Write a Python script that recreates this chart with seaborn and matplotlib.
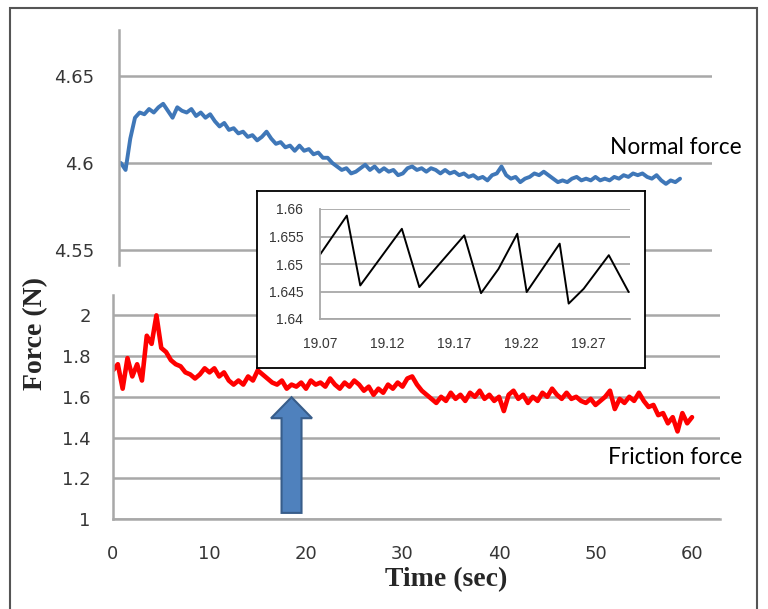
import numpy as np
import pandas as pd
import matplotlib
matplotlib.use("Agg")
import matplotlib.pyplot as plt
import seaborn as sns
from matplotlib.patches import Rectangle, FancyArrow

# ---- data ----
step = 0.5
normal_force = [
    4.600, 4.596, 4.614, 4.626, 4.629, 4.628, 4.631, 4.629, 4.632, 4.634,
    4.630, 4.626, 4.632, 4.630, 4.629, 4.631, 4.627, 4.629, 4.626, 4.628,
    4.624, 4.621, 4.623, 4.619, 4.620, 4.617, 4.618, 4.615, 4.616, 4.613,
    4.615, 4.618, 4.614, 4.611, 4.612, 4.609, 4.610, 4.607, 4.610, 4.607,
    4.608, 4.605, 4.606, 4.603, 4.603, 4.600, 4.598, 4.596, 4.597, 4.594,
    4.595, 4.597, 4.599, 4.596, 4.598, 4.595, 4.597, 4.595, 4.596, 4.593,
    4.594, 4.597, 4.598, 4.596, 4.597, 4.595, 4.597, 4.596, 4.594, 4.596,
    4.594, 4.595, 4.593, 4.594, 4.592, 4.593, 4.591, 4.592, 4.590, 4.593,
    4.594, 4.598, 4.593, 4.591, 4.592, 4.589, 4.591, 4.592, 4.594, 4.593,
    4.595, 4.593, 4.591, 4.589, 4.590, 4.589, 4.591, 4.592, 4.590, 4.591,
    4.590, 4.592, 4.590, 4.591, 4.590, 4.592, 4.591, 4.593, 4.592, 4.594,
    4.593, 4.594, 4.592, 4.591, 4.593, 4.590, 4.588, 4.590, 4.589, 4.591,
]
friction_force = [
    1.73, 1.76, 1.64, 1.79, 1.70, 1.76, 1.68, 1.90, 1.86, 2.00,
    1.84, 1.82, 1.78, 1.76, 1.75, 1.72, 1.71, 1.69, 1.71, 1.74,
    1.72, 1.74, 1.70, 1.72, 1.68, 1.66, 1.68, 1.66, 1.70, 1.68,
    1.73, 1.71, 1.69, 1.67, 1.66, 1.68, 1.64, 1.66, 1.65, 1.67,
    1.64, 1.68, 1.66, 1.67, 1.65, 1.69, 1.66, 1.64, 1.67, 1.65,
    1.68, 1.66, 1.63, 1.65, 1.61, 1.64, 1.62, 1.66, 1.64, 1.67,
    1.65, 1.69, 1.70, 1.66, 1.63, 1.61, 1.59, 1.57, 1.60, 1.58,
    1.62, 1.59, 1.61, 1.58, 1.62, 1.60, 1.63, 1.59, 1.61, 1.58,
    1.60, 1.53, 1.61, 1.63, 1.59, 1.61, 1.57, 1.60, 1.58, 1.62,
    1.60, 1.64, 1.61, 1.59, 1.62, 1.59, 1.60, 1.58, 1.57, 1.59,
    1.56, 1.58, 1.60, 1.63, 1.54, 1.59, 1.57, 1.60, 1.58, 1.62,
    1.58, 1.55, 1.56, 1.51, 1.52, 1.47, 1.50, 1.43, 1.52, 1.47,
    1.50,
]
# zoomed stick-slip window
zoom_time = [19.070, 19.090, 19.100, 19.131, 19.144, 19.1775, 19.190, 19.203,
             19.217, 19.224, 19.2486, 19.2553, 19.2665, 19.2852, 19.300]
zoom_force = [1.6517, 1.6588, 1.6461, 1.6564, 1.6458, 1.6552, 1.6447, 1.6491,
              1.6555, 1.6449, 1.6537, 1.6428, 1.6455, 1.6516, 1.6449]

top_ticks = [4.55, 4.6, 4.65]
top_labels = ["4.55", "4.6", "4.65"]
bot_yticks = [1, 1.2, 1.4, 1.6, 1.8, 2]
bot_ylabels = ["1", "1.2", "1.4", "1.6", "1.8", "2"]
time_ticks = [0, 10, 20, 30, 40, 50, 60]
zoom_yticks = [1.64, 1.645, 1.65, 1.655, 1.66]
zoom_ylabels = ["1.64", "1.645", "1.65", "1.655", "1.66"]
zoom_xticks = [19.07, 19.12, 19.17, 19.22, 19.27]
arrow_time = 18.5

normal_df = pd.DataFrame({"t": np.arange(len(normal_force)) * step, "f": normal_force})
friction_df = pd.DataFrame({"t": np.arange(len(friction_force)) * step, "f": friction_force})
zoom_df = pd.DataFrame({"t": zoom_time, "f": zoom_force})

sns.set_theme(style="white")
plt.rcParams["font.family"] = ["DejaVu Sans"]

W, H = 768, 609
grid_c = "#a8a8a8"
tick_c = "#363636"

fig = plt.figure(figsize=(W / 100, H / 100), dpi=100)


def px_axes(l, t, r, b, **kw):
    return fig.add_axes([l / W, 1 - b / H, (r - l) / W, (b - t) / H], **kw)


def excel_style(ax, lw=1.8, ticklen=6):
    for s in ax.spines.values():
        s.set_visible(False)
    ax.spines["left"].set_visible(True)
    ax.spines["left"].set_color(grid_c)
    ax.spines["left"].set_linewidth(lw)
    ax.yaxis.grid(True, color=grid_c, lw=lw)
    ax.xaxis.grid(False)
    ax.tick_params(axis="both", colors=grid_c, width=lw, length=ticklen,
                   direction="out", labelcolor=tick_c)
    ax.set_facecolor("none")
    ax.set_xlabel("")
    ax.set_ylabel("")


# ---- top panel: normal force ----
ax_top = px_axes(119, 30, 712, 265)
sns.lineplot(data=normal_df, x="t", y="f", ax=ax_top, color="#3f77b8", lw=2.8)
excel_style(ax_top, ticklen=9)
ax_top.set_xlim(-0.2, 62.9)
ax_top.set_ylim(4.5414, 4.6764)
ax_top.set_yticks(top_ticks, top_labels, fontsize=13)
ax_top.tick_params(axis="y", pad=9)
ax_top.set_xticks([])

# ---- bottom panel: friction force ----
ax_bot = px_axes(113, 295, 720, 519)
sns.lineplot(data=friction_df, x="t", y="f", ax=ax_bot, color="#ff0000", lw=3.3)
excel_style(ax_bot)
ax_bot.spines["bottom"].set_visible(True)
ax_bot.spines["bottom"].set_color(grid_c)
ax_bot.spines["bottom"].set_linewidth(1.8)
ax_bot.set_xlim(0, 62.9)
ax_bot.set_ylim(1, 2.1)
ax_bot.set_yticks(bot_yticks, bot_ylabels, fontsize=13)
ax_bot.set_xticks(time_ticks, [str(v) for v in time_ticks], fontsize=13)
ax_bot.tick_params(axis="y", pad=10)
ax_bot.tick_params(axis="x", pad=13)

ax_bot.add_patch(FancyArrow(arrow_time, 1.03, 0, 0.568, width=2.07, head_width=4.25,
                            head_length=0.103, length_includes_head=True,
                            fc="#4f81bd", ec="#385d8a", lw=1.5, zorder=4))

# ---- inset frame and zoomed window ----
frame = px_axes(257, 191, 645, 368)
frame.set_xticks([])
frame.set_yticks([])
frame.set_facecolor("white")
for s in frame.spines.values():
    s.set_color("black")
    s.set_linewidth(1.3)
frame.set_zorder(5)

ax_in = px_axes(320, 209, 630, 319)
ax_in.set_zorder(6)
sns.lineplot(data=zoom_df, x="t", y="f", ax=ax_in, color="black", lw=1.4)
excel_style(ax_in, lw=1.3, ticklen=5)
ax_in.spines["bottom"].set_visible(True)
ax_in.spines["bottom"].set_color(grid_c)
ax_in.spines["bottom"].set_linewidth(1.3)
ax_in.set_xlim(19.07, 19.301)
ax_in.set_ylim(1.64, 1.66)
ax_in.set_yticks(zoom_yticks, zoom_ylabels)
ax_in.set_xticks(zoom_xticks, [f"{v:.2f}" for v in zoom_xticks])
for lab in ax_in.get_xticklabels() + ax_in.get_yticklabels():
    lab.set_family("Liberation Sans")
    lab.set_fontsize(10)
ax_in.tick_params(axis="y", pad=7)
ax_in.tick_params(axis="x", pad=8)

# ---- labels ----
fig.text(610 / W, 1 - 148 / H, "Normal force", family="Lato", fontsize=16.3,
         va="center", ha="left", color="black")
fig.text(608 / W, 1 - 457 / H, "Friction force", family="Lato", fontsize=16.3,
         va="center", ha="left", color="black")
fig.text(446 / W, 1 - 580 / H, "Time (sec)", family="Liberation Serif",
         fontweight="bold", fontsize=20, ha="center", va="center")
fig.text(36 / W, 1 - 334 / H, "Force (N)", family="Liberation Serif",
         fontweight="bold", fontsize=20, ha="center", va="center", rotation=90)

fig.patches.append(Rectangle((10 / W, -0.02), (757 - 10) / W, 1 - 8 / H + 0.02,
                             transform=fig.transFigure, fill=False,
                             ec="#555555", lw=1.5))

fig.savefig("out.png", dpi=100)
